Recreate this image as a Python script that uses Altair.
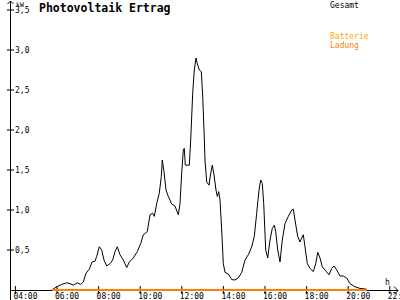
import altair as alt
import pandas as pd

# PV yield (kW) over time of day (hours)
pv_hours = [5.745, 5.986, 6.226, 6.466, 6.625, 6.784, 6.976, 7.139, 7.264, 7.394,
            7.553, 7.683, 7.827, 7.909, 8.034, 8.149, 8.260, 8.389, 8.548, 8.678,
            8.788, 8.899, 9.029, 9.188, 9.351, 9.476, 9.668, 9.861, 10.024, 10.149,
            10.341, 10.471, 10.601, 10.678, 10.793, 10.918, 11.014, 11.063, 11.144, 11.240,
            11.351, 11.514, 11.673, 11.832, 11.913, 11.995, 12.072, 12.120, 12.168, 12.361,
            12.428, 12.524, 12.601, 12.683, 12.745, 12.841, 12.938, 13.005, 13.067, 13.115,
            13.197, 13.308, 13.389, 13.466, 13.548, 13.644, 13.707, 13.774, 13.837, 13.918,
            13.995, 14.077, 14.236, 14.399, 14.558, 14.716, 14.880, 15.038, 15.197, 15.361,
            15.486, 15.601, 15.712, 15.793, 15.870, 15.938, 16.034, 16.130, 16.240, 16.351,
            16.447, 16.514, 16.611, 16.721, 16.832, 16.962, 17.120, 17.284, 17.361, 17.442,
            17.572, 17.683, 17.764, 17.841, 17.923, 18.034, 18.163, 18.322, 18.438, 18.534,
            18.644, 18.755, 18.918, 19.077, 19.207, 19.317, 19.447, 19.606, 19.764, 19.928,
            20.087, 20.327, 20.567, 20.889]
pv_kw = [0.0, 0.04, 0.07, 0.09, 0.08, 0.06, 0.09, 0.07, 0.10, 0.21,
         0.26, 0.35, 0.36, 0.42, 0.54, 0.50, 0.375, 0.30, 0.33, 0.375,
         0.48, 0.54, 0.44, 0.375, 0.28, 0.35, 0.40, 0.48, 0.58, 0.69,
         0.73, 0.94, 0.96, 0.92, 1.08, 1.21, 1.42, 1.625, 1.48, 1.25,
         1.17, 1.075, 1.05, 0.94, 1.08, 1.46, 1.75, 1.77, 1.56, 1.56,
         1.875, 2.46, 2.75, 2.90, 2.83, 2.75, 2.73, 2.42, 2.0, 1.625,
         1.35, 1.31, 1.46, 1.56, 1.44, 1.25, 1.17, 1.23, 1.125, 0.75,
         0.33, 0.22, 0.20, 0.13, 0.125, 0.15, 0.22, 0.375, 0.44, 0.54,
         0.67, 0.96, 1.25, 1.375, 1.33, 1.08, 0.50, 0.40, 0.625, 0.77,
         0.81, 0.73, 0.50, 0.35, 0.625, 0.83, 0.92, 1.0, 1.01, 0.875,
         0.67, 0.60, 0.65, 0.69, 0.54, 0.33, 0.27, 0.23, 0.33, 0.47,
         0.40, 0.29, 0.24, 0.19, 0.27, 0.30, 0.25, 0.175, 0.175, 0.15,
         0.08, 0.04, 0.02, 0.01]

# Battery charging (kW)
bat_hours = [5.75, 20.89]
bat_kw = [0.0, 0.0]

# Axis ticks
x_tick_hours = [4, 6, 8, 10, 12, 14, 16, 18, 20, 22]
x_tick_labels = ["04:00", "06:00", "08:00", "10:00", "12:00", "14:00",
                 "16:00", "18:00", "20:00", "22:00"]
y_tick_values = [0.5, 1.0, 1.5, 2.0, 2.5, 3.0, 3.5]
y_tick_labels = ["0,5", "1,0", "1,5", "2,0", "2,5", "3,0", "3,5"]

FONT = "DejaVu Sans Mono"
xs = alt.Scale(domain=[3.26, 22.49], nice=False, zero=False)
ys = alt.Scale(domain=[-0.125, 3.625], nice=False, zero=False)

pv = pd.DataFrame({"h": pv_hours, "kw": pv_kw})
bat = pd.DataFrame({"h": bat_hours, "kw": bat_kw})
xt = pd.DataFrame({"h": x_tick_hours, "label": x_tick_labels})
yt = pd.DataFrame({"kw": y_tick_values, "label": y_tick_labels})
one = pd.DataFrame({"a": [0]})

X = lambda: alt.X("h:Q", scale=xs, axis=None)
Y = lambda: alt.Y("kw:Q", scale=ys, axis=None)

x_axis = alt.Chart(one).mark_rule(color="black", strokeWidth=1).encode(
    x=alt.value(10), x2=alt.value(398), y=alt.value(290.5))
x_arrow = alt.Chart(one).mark_point(
    shape="M-1,-1L0,0L-1,1", size=64, filled=False, color="black", strokeWidth=1, opacity=1
).encode(x=alt.value(398), y=alt.value(290.5))
y_axis = alt.Chart(one).mark_rule(color="black", strokeWidth=1).encode(
    x=alt.value(10.5), y=alt.value(1), y2=alt.value(300))
y_arrow = alt.Chart(one).mark_point(
    shape="M-1,1L0,0L1,1", size=36, filled=False, color="black", strokeWidth=1, opacity=1
).encode(x=alt.value(10.5), y=alt.value(1))

y_ticks = alt.Chart(yt).mark_rule(color="black", strokeWidth=1).encode(
    y=Y(), x=alt.value(7), x2=alt.value(14))
y_labels = alt.Chart(yt).mark_text(
    font=FONT, fontSize=8, align="left", baseline="middle", color="black"
).encode(y=Y(), x=alt.value(15), text="label:N", yOffset=alt.value(1))

x_ticks = alt.Chart(xt).mark_rule(color="black", strokeWidth=1).encode(
    x=X(), y=alt.value(286), y2=alt.value(294))
x_labels = alt.Chart(xt).mark_text(
    font=FONT, fontSize=8, align="left", baseline="top", dx=-2, color="black"
).encode(x=X(), y=alt.value(293), text="label:N")

pv_line = alt.Chart(pv).mark_line(color="black", strokeWidth=1).encode(x=X(), y=Y())
bat_line = alt.Chart(bat).mark_line(color="#ff8000", strokeWidth=2).encode(x=X(), y=Y())

def label(txt, x, y, color="black", size=8, weight="normal", baseline="alphabetic"):
    return alt.Chart(one).mark_text(
        text=txt, font=FONT, fontSize=size, fontWeight=weight, align="left",
        baseline=baseline, color=color
    ).encode(x=alt.value(x), y=alt.value(y))

title = label("Photovoltaik Ertrag", 39, 12, size=11.5, weight="bold")
kw = label("kW", 16, 6.5, size=6.5)
hh = label("h", 385, 285)
ges = label("Gesamt", 330, 7.5)
batt = label("Batterie", 330, 38.5, color="#ffaa00")
lad = label("Ladung", 330, 47.5, color="#ff8000")

chart = alt.layer(
    x_axis, y_axis, x_arrow, y_arrow, y_ticks, y_labels, x_ticks, x_labels,
    pv_line, bat_line, title, kw, hh, ges, batt, lad
).properties(width=400, height=300, autosize="none", padding=0
).configure_view(stroke=None)

chart.save("out.html", embed_options={"renderer": "svg", "actions": False})
